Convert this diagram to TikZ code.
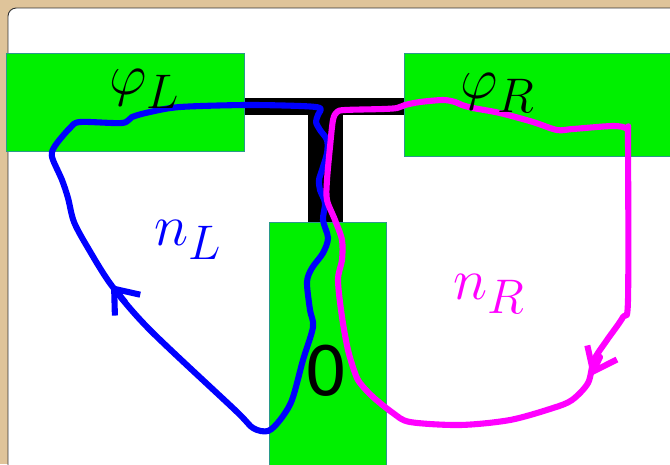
\documentclass[tikz,border=0pt]{standalone}
\usepackage{fontspec}
\newfontfamily\digitfont{DejaVu Sans}
\usepackage{tikz}
\usetikzlibrary{arrows.meta}
\definecolor{padgreen}{HTML}{00F000}
\definecolor{padedge}{HTML}{2A9A8A}
\definecolor{tanbg}{HTML}{DFC49A}
\definecolor{loopblue}{HTML}{0000FF}
\definecolor{loopmag}{HTML}{FF00FF}

\begin{document}
\begin{tikzpicture}[
      x=0.03cm, y=-0.03cm,
      panel/.style={fill=white, draw=black!80, line width=0.8pt, rounded corners=7pt},
      pad/.style={fill=padgreen, draw=padedge, line width=0.8pt},
      loopL/.style={draw=loopblue, line width=5.2pt, line join=round, line cap=round},
      loopR/.style={draw=loopmag, line width=5.2pt, line join=round, line cap=round},
      barb/.style={-{Straight Barb[length=18pt, width=28pt]}},
      lbl/.style={font=\fontsize{24.88}{30}\selectfont, scale=2, transform shape, inner sep=0pt}
    ]
      \useasboundingbox (0,0) rectangle (670,464);
      \clip (0,0) rectangle (670,464);
      \fill[tanbg] (0,0) rectangle (670,464);
      \path[panel] (8,8) rectangle (700,500);
      \fill[black] (240,98) rectangle (408,115);
      \fill[black] (308,98) rectangle (343,226);
      \path[pad] (6,53) rectangle (244,151);
      \path[pad] (404,53) rectangle (690,156);
      \path[pad] (269,222) rectangle (386,490);
      \draw[loopL] plot[smooth cycle, tension=0.5] coordinates {
        (52,152) (57,143) (70,128) (80,122) (122,123) (132,117) (150,112)
        (180,107) (245,105) (300,106) (320,108) (318,115) (316,122) (320,130)
        (327,140) (327,153) (322,170) (319,180) (320,190) (325,203) (323,220)
        (328,238) (323,253) (312,268) (307,282) (310,310) (313,327) (303,360)
        (292,400) (280,420) (268,431) (253,428) (235,410) (150,330)
        (112,286) (88,248) (74,222) (68,198) (62,180) (53,160)};
      \draw[loopR] plot[smooth cycle, tension=0.5] coordinates {
        (337,112) (345,110) (383,109) (397,108) (405,105) (420,102) (443,100)
        (455,102) (462,105) (473,108) (500,113) (533,122) (557,130) (573,129)
        (613,126) (627,129) (628,140) (628,300) (623,317) (607,340) (594,360)
        (588,383) (572,400) (553,408) (510,420) (460,425) (410,422) (393,413)
        (373,397) (360,383) (355,373) (348,350) (342,317) (338,280) (342,260)
        (342,240) (335,220) (327,200) (327,180) (330,147) (333,120)};
      \coordinate (tailL) at (125,302);
      \coordinate (tipL) at (111,285);
      \coordinate (tailR) at (600,357);
      \coordinate (tipR) at (591,376);
      \draw[loopL, barb] (tailL) -- (tipL);
      \draw[loopR, barb] (tailR) -- (tipR);
      \node[lbl] (phiL) at (145,89) {$\varphi_L$};
      \node[lbl] (phiR) at (498,93) {$\varphi_R$};
      \node[lbl, text=loopblue] (nL) at (188,240) {$n_L$};
      \node[lbl, text=loopmag] (nR) at (489,294) {$n_R$};
      \node[inner sep=0pt, font=\digitfont\fontsize{58}{70}\selectfont] (zero) at (326,371) {0};
    \end{tikzpicture}
\end{document}
